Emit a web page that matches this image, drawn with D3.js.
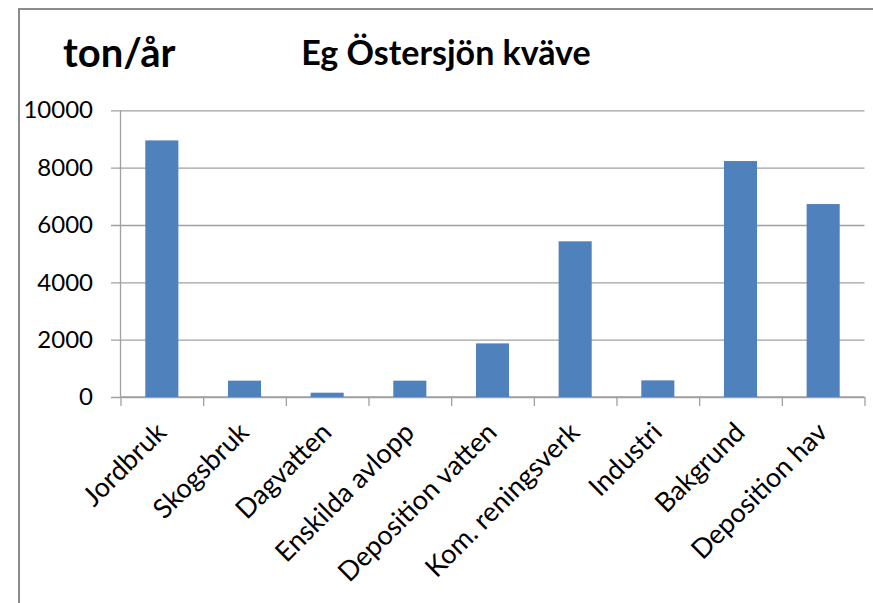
<!DOCTYPE html>
<html>
<head>
<meta charset="utf-8">
<script src="https://cdn.jsdelivr.net/npm/d3@7"></script>
<style>
  body { margin: 0; background: #fff; }
  svg { display: block; }
  svg text { font-family: Lato, "Open Sans", sans-serif; }
</style>
</head>
<body>
<div id="chart"></div>
<script>
const categories = ["Jordbruk", "Skogsbruk", "Dagvatten", "Enskilda avlopp", "Deposition vatten",
                    "Kom. reningsverk", "Industri", "Bakgrund", "Deposition hav"];
const values = [8950, 570, 150, 570, 1870, 5430, 580, 8230, 6730];
const yTicks = [0, 2000, 4000, 6000, 8000, 10000];
const unitLabel = "ton/år";
const title = "Eg Östersjön kväve";

const data = categories.map((c, i) => ({cat: c, val: values[i]}));

const svgWidth = 873, svgHeight = 603;
const svg = d3.select("#chart").append("svg")
    .attr("width", svgWidth)
    .attr("height", svgHeight);

// chart frame (only left and top edges are visible in the crop)
svg.append("path")
    .attr("d", "M19,603 V9 H873")
    .attr("fill", "none")
    .attr("stroke", "#8c8c8c")
    .attr("stroke-width", 2);

const margin = {top: 110.3, left: 120.5, right: 8.5, bottom: 206};
const width = svgWidth - margin.left - margin.right,
      height = svgHeight - margin.top - margin.bottom;

const g = svg.append("g")
    .attr("transform", "translate(" + margin.left + "," + margin.top + ")");

// Y scale + gridlines
const y = d3.scaleLinear()
    .domain([0, 10000])
    .range([height, 0]);

const gridLen = width + 9.5;
g.append("g")
    .attr("transform", "translate(" + width + ",0)")
    .call(d3.axisLeft(y).tickValues(yTicks).tickSize(gridLen).tickPadding(18).tickFormat(d3.format("d")))
    .call(a => a.select(".domain").remove())
    .call(a => a.selectAll("line").attr("stroke", "#a0a0a0").attr("stroke-width", 1.3))
    .call(a => a.selectAll("text")
        .attr("font-family", "Lato, sans-serif")
        .attr("font-size", "24px")
        .attr("fill", "#000"));

// X scale (bars)
const x = d3.scaleBand()
    .domain(categories)
    .range([0, width])
    .paddingInner(0.6)
    .paddingOuter(0.3);

// category boundaries for tick marks
const xEdge = d3.scaleLinear().domain([0, categories.length]).range([0, width]);
g.append("g")
    .attr("transform", "translate(0," + height + ")")
    .call(d3.axisBottom(xEdge).tickValues(d3.range(categories.length + 1)).tickFormat("").tickSize(9))
    .call(a => a.select(".domain").remove())
    .call(a => a.selectAll("line").attr("stroke", "#a0a0a0").attr("stroke-width", 1.3));

// axis lines
g.append("line")
    .attr("x1", 0).attr("x2", 0).attr("y1", 0).attr("y2", height)
    .attr("stroke", "#a0a0a0").attr("stroke-width", 1.3);
g.append("line")
    .attr("x1", 0).attr("x2", width).attr("y1", height).attr("y2", height)
    .attr("stroke", "#a0a0a0").attr("stroke-width", 1.3);

// Bars
g.append("g")
    .selectAll("rect")
    .data(data)
    .enter()
    .append("rect")
        .attr("x", d => x(d.cat))
        .attr("y", d => y(d.val))
        .attr("width", x.bandwidth())
        .attr("height", d => height - y(d.val))
        .attr("fill", "#4f81bd");

// Category labels
const xLab = d3.scaleBand().domain(categories).range([0, width]);
g.append("g")
    .attr("transform", "translate(0," + height + ")")
    .call(d3.axisBottom(xLab).tickSize(0))
    .call(a => a.select(".domain").remove())
    .call(a => a.selectAll("text")
        .attr("x", 0).attr("y", 0).attr("dy", 0)
        .attr("transform", "translate(6,37) rotate(-45)")
        .style("text-anchor", "end")
        .attr("font-family", "Lato, sans-serif")
        .attr("font-size", "27px")
        .attr("fill", "#000"));

// Titles
svg.append("text")
    .attr("x", 63).attr("y", 67)
    .attr("font-size", "40px")
    .attr("font-weight", "bold")
    .text(unitLabel);

svg.append("text")
    .attr("x", 446).attr("y", 65)
    .attr("text-anchor", "middle")
    .attr("font-size", "34px")
    .attr("font-weight", "bold")
    .text(title);
</script>
</body>
</html>
